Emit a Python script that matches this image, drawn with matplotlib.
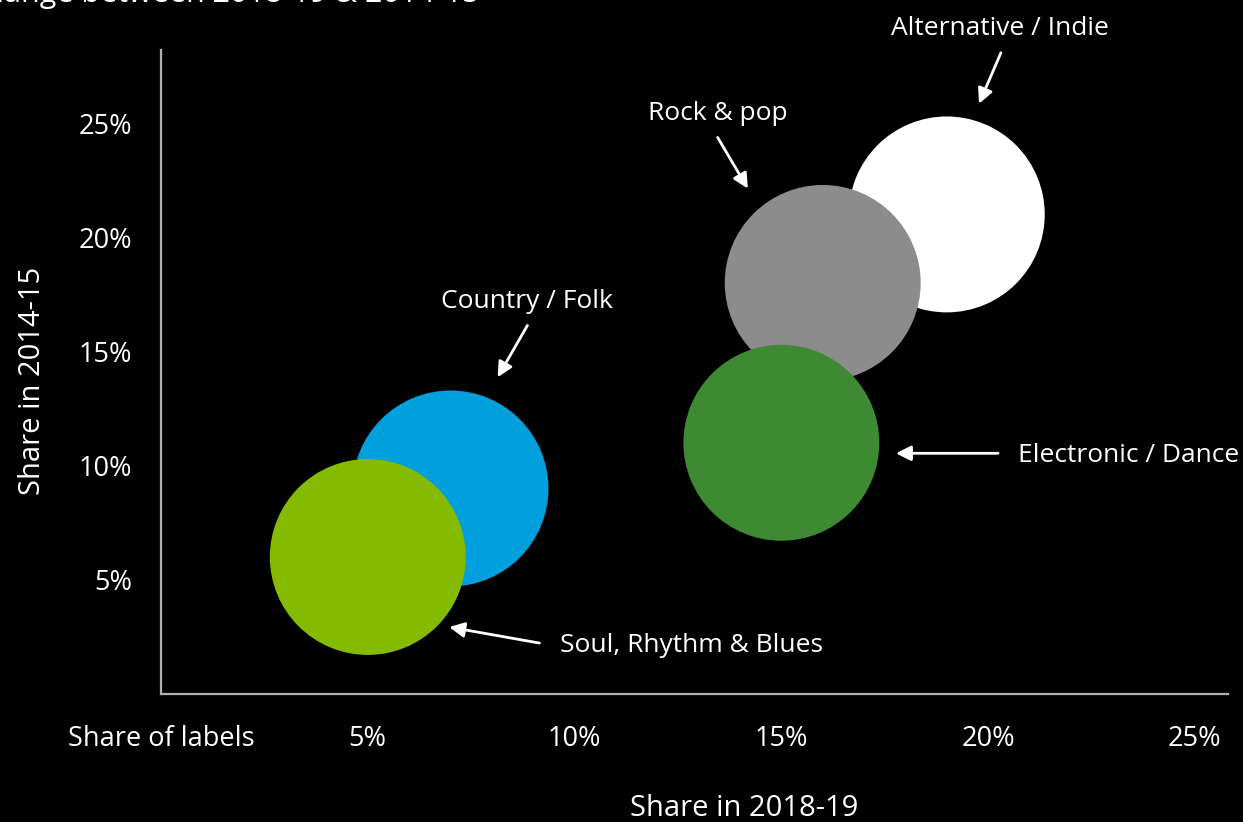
import matplotlib
matplotlib.use("Agg")
import matplotlib.pyplot as plt

plt.rcParams["font.family"] = ["Open Sans", "DejaVu Sans"]

genres = ["Alternative / Indie", "Rock & pop", "Electronic / Dance",
          "Country / Folk", "Soul, Rhythm & Blues"]
share_2018_19 = [19.0, 16.0, 15.0, 7.0, 5.0]
share_2014_15 = [21.0, 18.0, 11.0, 9.0, 6.0]
colors = ["#ffffff", "#8c8c8c", "#3d8a32", "#00a0dc", "#84ba00"]

x_ticks = [0, 5, 10, 15, 20, 25]
x_tick_labels = ["Share of labels", "5%", "10%", "15%", "20%", "25%"]
y_ticks = [5, 10, 15, 20, 25]
y_tick_labels = ["5%", "10%", "15%", "20%", "25%"]

W, H, DPI = 1243, 822, 100
fig = plt.figure(figsize=(W / DPI, H / DPI), dpi=DPI, facecolor="black")
ax = fig.add_axes([161 / W, 1 - 694 / H, (1228 - 161) / W, (694 - 50) / H])
ax.set_facecolor("black")

ax.scatter(share_2018_19, share_2014_15, s=19900, c=colors,
           linewidths=0, zorder=3, clip_on=False)

ax.set_xlim(0, 25.8)
ax.set_ylim(0, 28.2)
ax.set_xticks(x_ticks)
ax.set_xticklabels(x_tick_labels)
ax.set_yticks(y_ticks)
ax.set_yticklabels(y_tick_labels)
ax.tick_params(axis="both", length=0, colors="white", labelsize=19.5)
ax.tick_params(axis="x", pad=22.5)
ax.tick_params(axis="y", pad=21)

for side in ["top", "right"]:
    ax.spines[side].set_visible(False)
for side in ["left", "bottom"]:
    ax.spines[side].set_color("#b0b0b0")
    ax.spines[side].set_linewidth(1.6)

# Labels with arrows pointing at each bubble (text pos, alignment, arrow tail, arrow head)
callouts = [
    ("Alternative / Indie", (20.29, 29.13), "center", (20.31, 28.08), (19.78, 25.85)),
    ("Rock & pop", (13.46, 25.41), "center", (13.46, 24.37), (14.19, 22.13)),
    ("Country / Folk", (8.86, 17.19), "center", (8.86, 16.14), (8.14, 13.87)),
    ("Electronic / Dance", (20.73, 10.45), "left", (20.24, 10.54), (17.77, 10.54)),
    ("Soul, Rhythm & Blues", (9.64, 2.14), "left", (9.15, 2.23), (6.97, 2.93)),
]
for label, tpos, ha, tail, head in callouts:
    ax.text(tpos[0], tpos[1], label, color="white", fontsize=19,
            ha=ha, va="center", zorder=5)
    ax.annotate("", xy=head, xytext=tail, annotation_clip=False,
                arrowprops=dict(arrowstyle="-|>,head_length=0.9,head_width=0.45",
                                color="white", lw=2, shrinkA=0, shrinkB=0),
                zorder=5)

fig.text(744 / W, 1 - 808 / H, "Share in 2018-19", color="white",
         fontsize=21, ha="center", va="center")
fig.text(33 / W, 1 - 381 / H, "Share in 2014-15", color="white",
         fontsize=21, ha="center", va="center", rotation=90)
fig.text(480 / W, 1 - 2 / H, "Change between 2018-19 & 2014-15", color="white",
         fontsize=22, ha="right", va="baseline")

fig.savefig("out.png", dpi=DPI, facecolor="black")
